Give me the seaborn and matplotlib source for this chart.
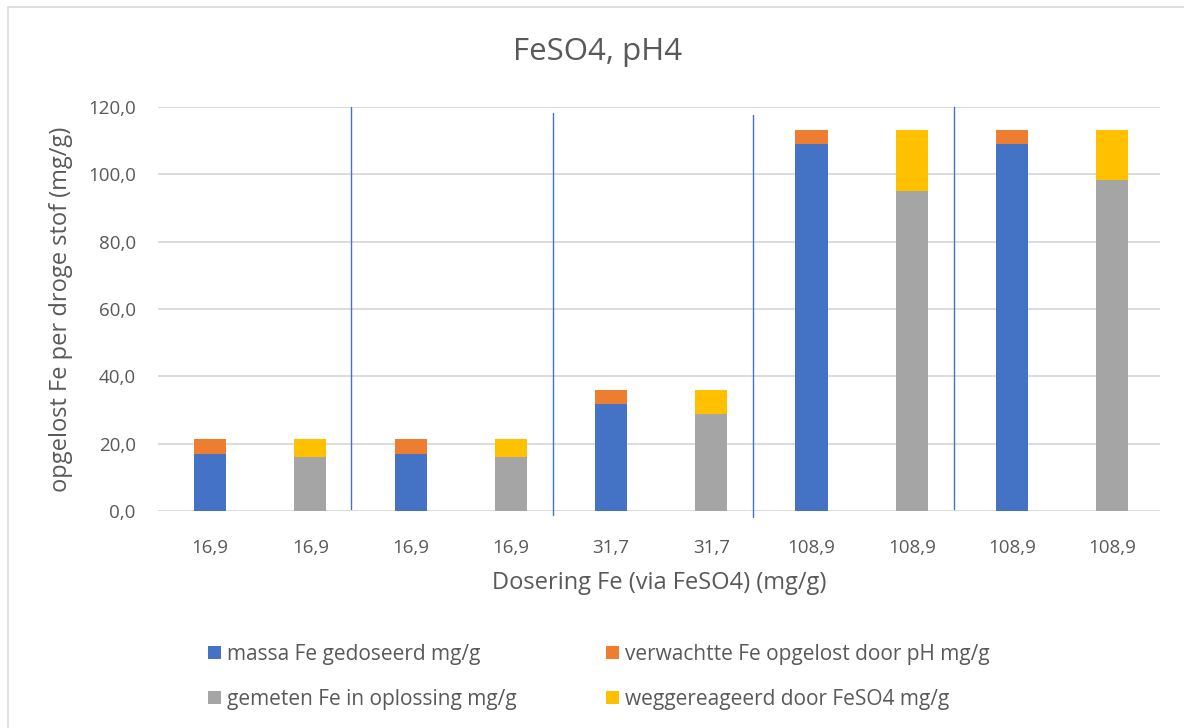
import matplotlib
matplotlib.use("Agg")
import matplotlib.pyplot as plt
import seaborn as sns
import pandas as pd
from matplotlib.patches import Rectangle

# Dosed Fe per sample (category labels on the x axis)
dosering_labels = ["16,9", "16,9", "16,9", "16,9", "31,7", "31,7",
                   "108,9", "108,9", "108,9", "108,9"]

# Paired samples: first bar of each pair = dosed + expected by pH,
# second bar = measured in solution + reacted away by FeSO4
massa_gedoseerd = [16.9, 16.9, 31.7, 108.9, 108.9]
verwacht_ph = [4.4, 4.4, 4.4, 4.4, 4.4]
gemeten_oplossing = [16.1, 16.1, 28.8, 95.1, 98.2]
weggereageerd = [5.2, 5.2, 7.3, 18.2, 15.1]

series_names = ["massa Fe gedoseerd mg/g",
                "verwachtte Fe opgelost door pH mg/g",
                "gemeten Fe in oplossing mg/g",
                "weggereageerd door FeSO4 mg/g"]
colors = ["#4472C4", "#ED7D31", "#A5A5A5", "#FFC000"]

ids = [str(i) for i in range(len(dosering_labels))]
left_ids = ids[0::2]
right_ids = ids[1::2]

df_left = pd.DataFrame({"id": left_ids, "massa": massa_gedoseerd, "ph": verwacht_ph})
df_right = pd.DataFrame({"id": right_ids, "gemeten": gemeten_oplossing, "weg": weggereageerd})

sns.set_theme(style="white")
plt.rcParams["font.family"] = ["Open Sans", "DejaVu Sans"]
text_color = "#595959"

fig = plt.figure(figsize=(11.84, 7.28), dpi=100)
ax = fig.add_axes([0.1335, 0.298, 0.8465, 0.555])

# outer chart frame
fig.patches.append(Rectangle((8 / 1184, -0.1), 1.2, 1 - 7 / 728 + 0.1,
                             transform=fig.transFigure, fill=False,
                             edgecolor="#D9D9D9", linewidth=1.2))

bw = 0.32
sns.barplot(data=df_left, x="id", y="massa", order=ids, color=colors[0],
            width=bw, ax=ax, saturation=1, label=series_names[0])
sns.barplot(data=df_left, x="id", y="ph", order=ids, color=colors[1],
            width=bw, ax=ax, saturation=1, bottom=df_left["massa"].values,
            label=series_names[1])
sns.barplot(data=df_right, x="id", y="gemeten", order=ids, color=colors[2],
            width=bw, ax=ax, saturation=1, label=series_names[2])
sns.barplot(data=df_right, x="id", y="weg", order=ids, color=colors[3],
            width=bw, ax=ax, saturation=1, bottom=df_right["gemeten"].values,
            label=series_names[3])

handles, labels = ax.get_legend_handles_labels()
if ax.get_legend() is not None:
    ax.get_legend().remove()

for p in ax.patches:
    p.set_linewidth(0)

ax.set_xlim(-0.52, 9.48)
ax.set_ylim(0, 120)
ax.set_yticks(range(0, 121, 20))
ax.set_yticklabels([f"{v},0" for v in range(0, 121, 20)])
ax.set_xticks(range(len(dosering_labels)))
ax.set_xticklabels(dosering_labels)
ax.tick_params(axis="both", colors=text_color, labelsize=13.5, length=0)
ax.tick_params(axis="x", pad=20)
ax.tick_params(axis="y", pad=16)
ax.yaxis.grid(True, color="#D9D9D9", linewidth=1.3)
ax.set_axisbelow(True)
for s in ax.spines.values():
    s.set_visible(False)

ax.set_xlabel("Dosering Fe (via FeSO4) (mg/g)", color=text_color, fontsize=17, labelpad=10)
ax.set_ylabel("opgelost Fe per droge stof (mg/g)", color=text_color, fontsize=17, labelpad=11)
fig.text(0.505, 0.928, "FeSO4, pH4", ha="center", va="center", color=text_color, fontsize=22.5)

# hand-drawn group separators
separators = [(1.41, 120.0, 0.6), (3.42, 118.2, -1.2), (5.42, 117.5, -1.8), (7.42, 120.0, 0.6)]
for xs, ytop, ybot in separators:
    ax.plot([xs, xs], [ybot, ytop], color="#4472C4", linewidth=1, clip_on=False)

order = [0, 2, 1, 3]
leg = fig.legend([handles[i] for i in order], [labels[i] for i in order],
                 loc="center", bbox_to_anchor=(0.506, 0.070), ncol=2, frameon=False,
                 fontsize=15, handlelength=0.6, handleheight=0.6, handletextpad=0.3,
                 columnspacing=4.3, labelspacing=1.15, labelcolor=text_color)

fig.savefig("out.png", dpi=100, facecolor="white")
